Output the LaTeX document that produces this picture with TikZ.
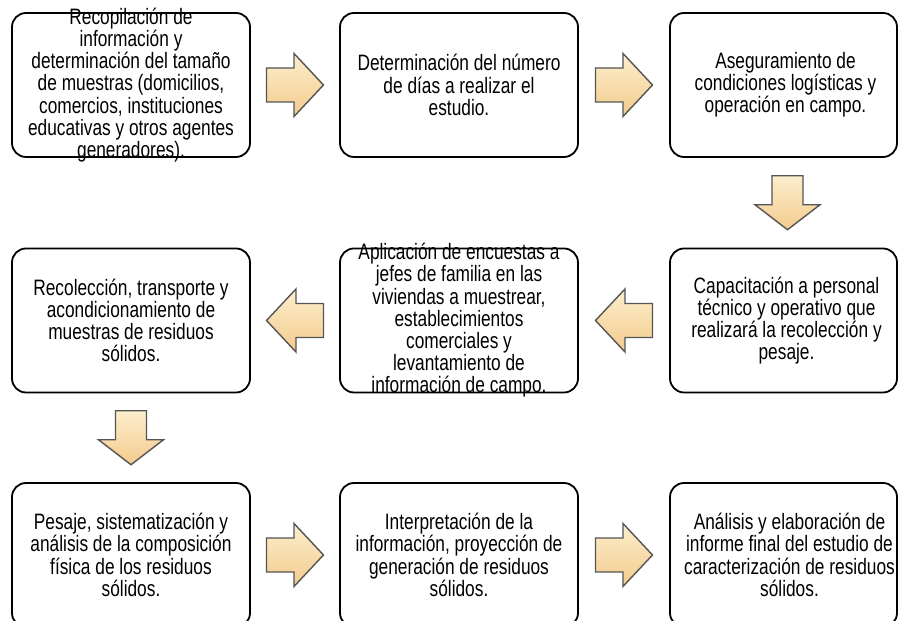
\documentclass[tikz,border=0pt]{standalone}
\usepackage{fontspec}
\setmainfont[FakeStretch=0.776]{Liberation Sans}
\usetikzlibrary{calc}
\definecolor{arrA}{RGB}{252,238,205}
\definecolor{arrB}{RGB}{243,203,140}
\definecolor{arrLine}{RGB}{85,85,85}
\tikzset{
 box/.style={draw=black, line width=1.8pt, rounded corners=14pt, fill=white, minimum width=238pt, minimum height=144pt, inner sep=0pt},
 txt/.style={align=center, font=\fontsize{22.3}{22.2}\selectfont, inner sep=0pt},
 blockarrow/.style={draw=arrLine, line width=1.4pt, line join=miter, top color=arrA, bottom color=arrB},
 rarr/.pic={\path[blockarrow] (-28.5,17) -- (-1,17) -- (-1,31.5) -- (28.5,0) -- (-1,-31.5) -- (-1,-17) -- (-28.5,-17) -- cycle;},
 larr/.pic={\path[blockarrow] (28.5,17) -- (1,17) -- (1,31.5) -- (-28.5,0) -- (1,-31.5) -- (1,-17) -- (28.5,-17) -- cycle;},
 darr/.pic={\path[blockarrow] (-15.5,27) -- (15.5,27) -- (15.5,-2) -- (32.5,-2) -- (0,-27) -- (-32.5,-2) -- (-15.5,-2) -- cycle;},
}
\begin{document}
\begin{tikzpicture}[x=1pt,y=1pt]
\useasboundingbox (0,0) rectangle (898,621);
\clip (0,0) rectangle (898,621);
% boxes
\node[box] (b1) at (131,536) {};
\node[box] (b2) at (459,536) {};
\node[box, minimum width=227pt] (b3) at (783.5,536) {};
\node[box, minimum width=227pt] (b4) at (783.5,300.5) {};
\node[box] (b5) at (459,300.5) {};
\node[box] (b6) at (131,300.5) {};
\node[box] (b7) at (131,66) {};
\node[box] (b8) at (459,66) {};
\node[box, minimum width=227pt] (b9) at (783.5,66) {};
% texts
\node[txt] (t1) at (b1) {Recopilación de\\información y\\determinación del tamaño\\de muestras (domicilios,\\comercios, instituciones\\educativas y otros agentes\\generadores).};
\node[txt] (t2) at (b2) {Determinación del número\\de días a realizar el\\estudio.};
\node[txt] (t3) at ($(b3)+(2,0)$) {Aseguramiento de\\condiciones logísticas y\\operación en campo.};
\node[txt] (t4) at ($(b4)+(3,0)$) {Capacitación a personal\\técnico y operativo que\\realizará la recolección y\\pesaje.};
\node[txt] (t5) at (b5) {Aplicación de encuestas a\\jefes de familia en las\\viviendas a muestrear,\\establecimientos\\comerciales y\\levantamiento de\\información de campo.};
\node[txt] (t6) at (b6) {Recolección, transporte y\\acondicionamiento de\\muestras de residuos\\sólidos.};
\node[txt] (t7) at (b7) {Pesaje, sistematización y\\análisis de la composición\\física de los residuos\\sólidos.};
\node[txt] (t8) at (b8) {Interpretación de la\\información, proyección de\\generación de residuos\\sólidos.};
\node[txt] (t9) at ($(b9)+(6,0)$) {Análisis y elaboración de\\informe final del estudio de\\caracterización de residuos\\sólidos.};
% arrows
\pic at ($(b1.east)!0.5!(b2.west)$) {rarr};
\pic at ($(b2.east)!0.5!(b3.west)$) {rarr};
\pic at ($(b3.south)!0.5!(b4.north)+(4,0)$) {darr};
\pic at ($(b4.west)!0.5!(b5.east)$) {larr};
\pic at ($(b5.west)!0.5!(b6.east)$) {larr};
\pic at ($(b6.south)!0.5!(b7.north)$) {darr};
\pic at ($(b7.east)!0.5!(b8.west)$) {rarr};
\pic at ($(b8.east)!0.5!(b9.west)$) {rarr};
\end{tikzpicture}
\end{document}
